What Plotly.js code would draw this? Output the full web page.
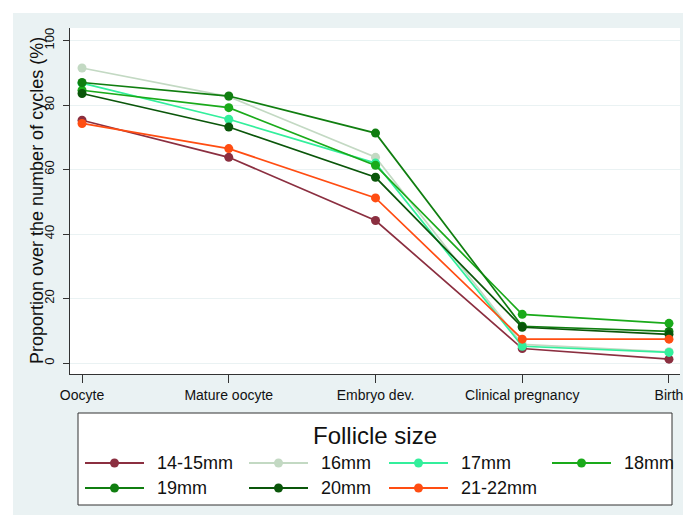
<!DOCTYPE html>
<html><head><meta charset="utf-8">
<script src="https://cdn.plot.ly/plotly-3.0.1.min.js"></script>
<style>
html,body{margin:0;padding:0;background:#ffffff;width:683px;height:515px;overflow:hidden}
#chart{position:absolute;left:13px;top:13px;width:670px;height:502px}
</style>
</head><body><div id="chart"></div>
<script>
// ---- data ----
const stages = ['Oocyte', 'Mature oocyte', 'Embryo dev.', 'Clinical pregnancy', 'Birth'];
const seriesNames = ['14-15mm', '16mm', '17mm', '18mm', '19mm', '20mm', '21-22mm'];
const seriesColors = ['#8b2f40', '#c3d9c3', '#33ef9c', '#1aaa1a', '#107e10', '#0a560a', '#ff4d12'];
const size14_15 = [75.3, 63.8, 44.2, 4.5, 1.2];
const size16    = [91.5, 82.6, 63.8, 5.8, 3.5];
const size17    = [86.8, 75.6, 62.0, 5.2, 3.3];
const size18    = [84.6, 79.2, 61.3, 15.1, 12.3];
const size19    = [87.0, 82.8, 71.3, 11.4, 9.8];
const size20    = [83.6, 73.2, 57.6, 11.1, 8.9];
const size21_22 = [74.3, 66.5, 51.2, 7.4, 7.4];
const yTicks = [0, 20, 40, 60, 80, 100];
const legendTitle = 'Follicle size';
const yTitle = 'Proportion over the number of cycles (%)';

const seriesValues = [size14_15, size16, size17, size18, size19, size20, size21_22];

const traces = seriesValues.map((vals, i) => ({
  type: 'scatter', mode: 'lines+markers',
  x: stages, y: vals, name: seriesNames[i],
  line: {color: seriesColors[i], width: 1.7},
  marker: {color: seriesColors[i], size: 9},
  showlegend: false, hoverinfo: 'x+y+name'
}));

// ---- manual legend (Stata style), page-pixel helpers ----
const PL = 70, PW = 610, PB = 374, PH = 346;
const px2x = p => (p - PL) / PW;
const py2y = p => (PB - p) / PH;
const shapes = [];
const annotations = [];
shapes.push({type: 'rect', xref: 'paper', yref: 'paper',
  x0: px2x(78), x1: px2x(672), y0: py2y(505), y1: py2y(413),
  line: {color: '#333333', width: 1}, fillcolor: '#ffffff'});
annotations.push({xref: 'paper', yref: 'paper', x: px2x(375), y: py2y(435),
  text: legendTitle, showarrow: false, xanchor: 'center', yanchor: 'middle',
  font: {family: 'Liberation Sans, Arial, sans-serif', size: 24, color: '#111111'}});
annotations.push({xref: 'paper', yref: 'paper', x: px2x(37), y: py2y(201),
  text: yTitle, showarrow: false, xanchor: 'center', yanchor: 'middle', textangle: -90,
  font: {family: 'Liberation Sans, Arial, sans-serif', size: 18, color: '#111111'}});
const colLine = [85, 249, 389, 552];
const rowY = [463, 488];
seriesNames.forEach((nm, i) => {
  const c = i % 4, r = Math.floor(i / 4);
  const x0 = colLine[c], x1 = x0 + 59, xm = x0 + 29.5, y = rowY[r];
  shapes.push({type: 'line', xref: 'paper', yref: 'paper',
    x0: px2x(x0), x1: px2x(x1), y0: py2y(y), y1: py2y(y),
    line: {color: seriesColors[i], width: 2}});
  shapes.push({type: 'circle', xref: 'paper', yref: 'paper',
    x0: px2x(xm - 4.5), x1: px2x(xm + 4.5), y0: py2y(y + 4.5), y1: py2y(y - 4.5),
    line: {color: seriesColors[i], width: 0}, fillcolor: seriesColors[i]});
  annotations.push({xref: 'paper', yref: 'paper', x: px2x(x1 + 11), y: py2y(y),
    text: nm, showarrow: false, xanchor: 'left', yanchor: 'middle',
    font: {family: 'Liberation Sans, Arial, sans-serif', size: 18, color: '#111111'}});
});

const layout = {
  width: 670, height: 502,
  margin: {l: 57, r: 3, t: 15, b: 141},
  paper_bgcolor: '#eaf2f3', plot_bgcolor: '#ffffff',
  font: {family: 'Liberation Sans, Arial, sans-serif', color: '#111111'},
  showlegend: false,
  xaxis: {
    type: 'category', range: [-0.082, 4.075], fixedrange: true,
    showgrid: false, zeroline: false,
    showline: true, linecolor: '#333333', linewidth: 1,
    ticks: 'outside', ticklen: 8, tickcolor: '#333333',
    tickfont: {size: 14, color: '#111111'}
  },
  yaxis: {
    range: [-3.4, 103.9], tickvals: yTicks, ticktext: yTicks.map(String),
    tickangle: -90, showgrid: true, gridcolor: '#eaf2f3', gridwidth: 1,
    zeroline: false, showline: true, linecolor: '#333333', linewidth: 1,
    ticks: 'outside', ticklen: 6, tickcolor: '#333333', ticklabelstandoff: 4,
    tickfont: {size: 13, color: '#111111'}
  },
  shapes: shapes, annotations: annotations
};

Plotly.newPlot('chart', traces, layout, {displayModeBar: false, responsive: false});
</script>
</body></html>
